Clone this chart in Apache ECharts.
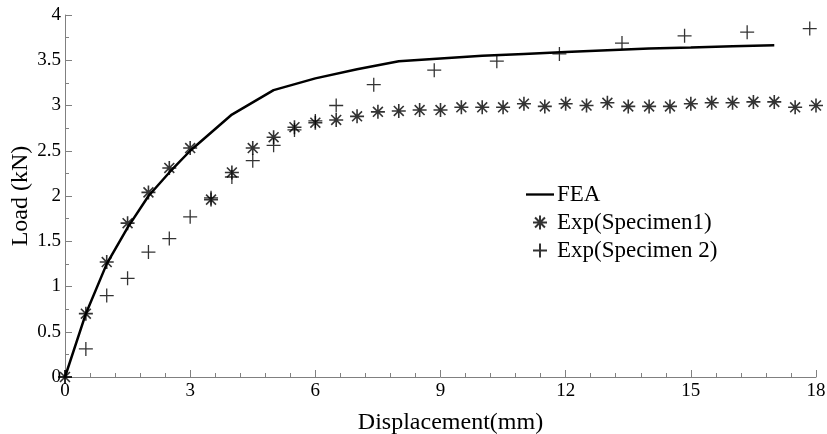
<!DOCTYPE html>
<html>
<head>
<meta charset="utf-8">
<script src="https://cdn.jsdelivr.net/npm/echarts@6/dist/echarts.min.js"></script>
<style>
  html, body { margin: 0; padding: 0; background: #fff; }
  #chart { width: 827px; height: 434px; }
</style>
</head>
<body>
<div id="chart"></div>
<script>
// FEA 曲线
const feaX = [0, 0.5, 1, 1.5, 2, 2.5, 3, 4, 5, 6, 7, 8, 9, 10, 11, 12, 13, 14, 15, 16, 17];
const feaY = [0, 0.7, 1.25, 1.65, 2.0, 2.26, 2.5, 2.9, 3.17, 3.3, 3.4, 3.49, 3.52, 3.55, 3.57, 3.59, 3.61, 3.63, 3.64, 3.655, 3.665];

// 试件1
const spec1X = [0, 0.5, 1, 1.5, 2, 2.5, 3, 3.5, 4, 4.5, 5, 5.5, 6, 6.5, 7, 7.5, 8, 8.5, 9, 9.5, 10, 10.5, 11, 11.5, 12, 12.5, 13, 13.5, 14, 14.5, 15, 15.5, 16, 16.5, 17, 17.5, 18];
const spec1Y = [0, 0.7, 1.27, 1.7, 2.04, 2.31, 2.53, 1.96, 2.26, 2.53, 2.65, 2.76, 2.81, 2.84, 2.88, 2.93, 2.94, 2.95, 2.95, 2.98, 2.98, 2.98, 3.02, 2.99, 3.02, 3.0, 3.03, 2.99, 2.99, 2.99, 3.02, 3.03, 3.03, 3.04, 3.04, 2.98, 3.0];

// 试件2
const spec2X = [0, 0.5, 1, 1.5, 2, 2.5, 3, 3.5, 4, 4.5, 5, 5.5, 6, 6.5, 7.4, 8.85, 10.35, 11.85, 13.35, 14.85, 16.35, 17.85];
const spec2Y = [0, 0.31, 0.9, 1.09, 1.38, 1.53, 1.77, 1.98, 2.21, 2.39, 2.56, 2.73, 2.83, 3.0, 3.23, 3.39, 3.49, 3.57, 3.69, 3.77, 3.81, 3.85];

const xTicks = [0, 3, 6, 9, 12, 15, 18];

const font = '"Liberation Serif", "DejaVu Serif", serif';
const starPath = 'path://M0,-10 L0,10 M-10,0 L10,0 M-7.07,-7.07 L7.07,7.07 M-7.07,7.07 L7.07,-7.07';
const plusPath = 'path://M0,-10 L0,10 M-10,0 L10,0';
const lineIcon = 'path://M0,0 L30,0 L30,2.5 L0,2.5 Z';

const zip = (xs, ys) => xs.map((x, i) => [x, ys[i]]);

const chart = echarts.init(document.getElementById('chart'));

const option = {
    backgroundColor: '#fff',
    animation: false,
    grid: {
        left: 65,
        right: 11,
        top: 15,
        bottom: 57,
        outerBoundsMode: 'none',
        containLabel: false
    },
    legend: {
        orient: 'vertical',
        left: 521,
        top: 178,
        itemWidth: 28,
        itemHeight: 14,
        itemGap: 5,
        textStyle: { fontFamily: font, fontSize: 23, lineHeight: 23, color: '#000', padding: [0, 0, 0, -2] },
        data: [
            { name: 'FEA', icon: lineIcon },
            'Exp(Specimen1)',
            'Exp(Specimen 2)'
        ]
    },
    xAxis: {
        type: 'value',
        min: 0,
        max: 18,
        interval: 3,
        name: 'Displacement(mm)',
        nameLocation: 'middle',
        nameGap: 34,
        nameTextStyle: { fontFamily: font, fontSize: 24, color: '#000', padding: [0, 0, 0, 20] },
        axisLine: { lineStyle: { color: '#808080', width: 1 } },
        axisTick: { inside: true, length: 7, lineStyle: { color: '#808080' } },
        minorTick: { show: true, splitNumber: 5, length: 4, lineStyle: { color: '#808080' } },
        axisLabel: {
            fontFamily: font, fontSize: 19, color: '#000', margin: 5,
            formatter: v => xTicks.includes(v) ? String(v) : ''
        },
        splitLine: { show: false }
    },
    yAxis: {
        type: 'value',
        min: 0,
        max: 4,
        interval: 0.5,
        name: 'Load (kN)',
        nameLocation: 'middle',
        nameGap: 32,
        nameMoveOverlap: false,
        nameTextStyle: { fontFamily: font, fontSize: 24, color: '#000' },
        axisLine: { show: true, lineStyle: { color: '#808080', width: 1 } },
        axisTick: { show: true, inside: true, length: 7, lineStyle: { color: '#808080' } },
        minorTick: { show: true, splitNumber: 2, length: 4, lineStyle: { color: '#808080' } },
        axisLabel: { fontFamily: font, fontSize: 19, color: '#000', margin: 4 },
        splitLine: { show: false }
    },
    series: [
        {
            name: 'FEA',
            type: 'line',
            data: zip(feaX, feaY),
            symbol: 'none',
            smooth: false,
            lineStyle: { color: '#000', width: 2.5 },
            itemStyle: { color: '#000' },
            z: 3
        },
        {
            name: 'Exp(Specimen1)',
            type: 'scatter',
            data: zip(spec1X, spec1Y),
            symbol: starPath,
            symbolSize: 14,
            itemStyle: { color: 'none', borderColor: '#000', borderWidth: 1.6 },
            z: 4
        },
        {
            name: 'Exp(Specimen 2)',
            type: 'scatter',
            data: zip(spec2X, spec2Y),
            symbol: plusPath,
            symbolSize: 14,
            itemStyle: { color: 'none', borderColor: '#000', borderWidth: 1.3 },
            z: 4
        }
    ]
};

chart.setOption(option);

window.addEventListener('resize', () => {
    chart && chart.resize();
});
</script>
</body>
</html>
